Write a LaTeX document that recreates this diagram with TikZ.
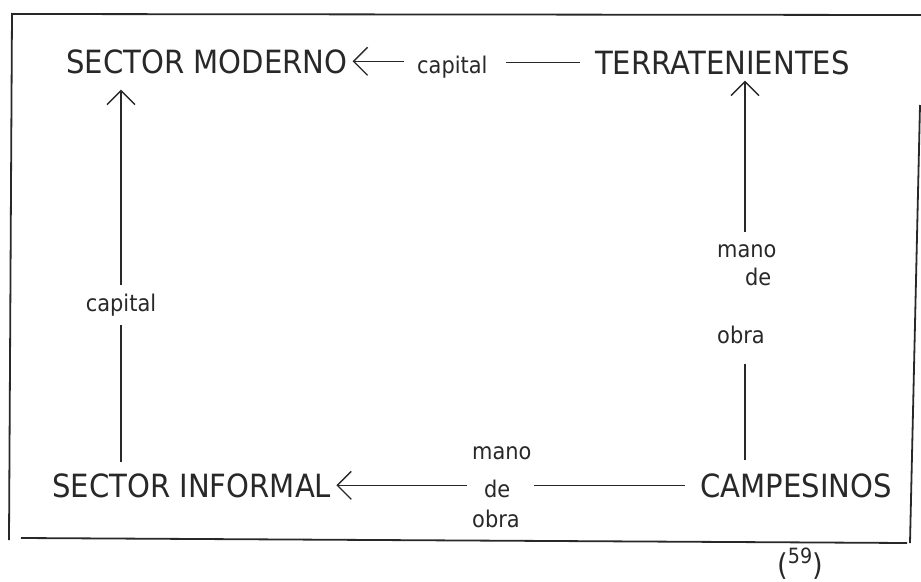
\documentclass[tikz,border=0pt]{standalone}
\usepackage{fontspec}
\setmainfont{DejaVu Sans}[FakeStretch=0.91]
\usetikzlibrary{arrows.meta}
\definecolor{ink}{RGB}{40,40,40}
\tikzset{
  big/.style={inner sep=0pt, anchor=base west, text=ink, font=\fontsize{32}{38}\selectfont},
  small/.style={inner sep=0pt, text=ink, font=\fontsize{23}{27}\selectfont},
  conn/.style={draw=ink, line width=1.4pt},
  arr/.style={conn, -{Straight Barb[length=14pt,width=28pt,line width=1.4pt]}},
  frameline/.style={draw=ink, line width=1.8pt}
}
\begin{document}
\begin{tikzpicture}[x=1pt,y=-1pt]
\useasboundingbox (0,0) rectangle (921,581);
% frame
\draw[frameline] (12,13) -- (9,540);
\draw[frameline] (12,14) -- (921,15);
\draw[frameline] (21,538) -- (907,543);
\draw[frameline] (920,105) -- (910,543);
% main nodes
\node[big] (mod) at (66,73) {SECTOR MODERNO};
\node[big] (terr) at (595,74) {TERRATENIENTES};
\node[big] (inf) at (52,497) {SECTOR INFORMAL};
\node[big] (camp) at (700,497) {CAMPESINOS};
% labels
\node[small, anchor=base west] (cap1) at (417,73) {capital};
\node[small, anchor=base] (cap2) at (121,311) {capital};
\node[small, anchor=base west] (mo1) at (717,257) {mano};
\node[small, anchor=base west] (de1) at (745,285) {de};
\node[small, anchor=base west] (ob1) at (717,343) {obra};
\node[small, anchor=base west] (mo2) at (472,459) {mano};
\node[small, anchor=base west] (de2) at (484,497) {de};
\node[small, anchor=base west] (ob2) at (472,527) {obra};
% top connector
\draw[conn, shorten <=15pt, shorten >=18pt] (terr.west) -- (terr.west -| cap1.east);
\draw[arr, shorten <=13pt, shorten >=5pt] (mod.east -| cap1.west) -- (mod.east);
% left connector
\draw[conn, shorten <=9pt, shorten >=11pt] (cap2.south) -- (cap2.south |- inf.north);
\draw[arr, shorten <=8pt, shorten >=16pt] (cap2.north) -- (cap2.north |- mod.south);
% right connector
\draw[conn, shorten <=20pt, shorten >=13pt] (de1.west |- ob1.south) -- (de1.west |- camp.north);
\draw[arr, shorten <=12pt, shorten >=6pt] (de1.west |- mo1.north) -- (de1.west |- terr.south);
% bottom connector
\draw[conn, shorten <=15pt, shorten >=2pt] (camp.west) -- (camp.west -| mo2.east);
\draw[arr, shorten <=17pt, shorten >=5pt] (inf.east -| de2.west) -- (inf.east);
% footnote mark
\node[inner sep=0pt, anchor=base west, text=ink] (fn) at (777,575)
  {{\fontsize{30}{30}\selectfont(}\raisebox{12pt}{\fontsize{21}{21}\selectfont 59}{\fontsize{30}{30}\selectfont)}};
\end{tikzpicture}
\end{document}
